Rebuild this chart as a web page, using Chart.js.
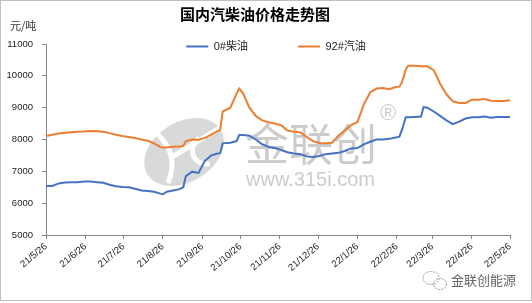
<!DOCTYPE html>
<html>
<head>
<meta charset="utf-8">
<script src="https://cdn.jsdelivr.net/npm/chart.js@4"></script>
<style>
  html, body { margin: 0; padding: 0; background: #fff; }
  #wrap { width: 532px; height: 303px; position: relative; }
</style>
</head>
<body>
<div id="wrap"><canvas id="Chart1"></canvas></div>
<script>
// month tick labels (yy/m/d)
const tickLabels = ['21/5/26', '21/6/26', '21/7/26', '21/8/26', '21/9/26', '21/10/26', '21/11/26',
  '21/12/26', '22/1/26', '22/2/26', '22/3/26', '22/4/26', '22/5/26'];

// days since 21/5/26
const days = [
  0, 5, 10, 15, 20, 25, 30, 35, 40, 45,
  50, 55, 60, 65, 70, 75, 80, 85, 90, 92,
  95, 100, 105, 108, 110, 115, 120, 125, 130, 135,
  137, 139, 145, 150, 152, 155, 160, 165, 170, 175,
  180, 185, 190, 195, 200, 205, 210, 215, 220, 225,
  230, 235, 240, 245, 250, 255, 260, 265, 270, 275,
  278, 280, 283, 285, 290, 295, 297, 300, 305, 310,
  315, 320, 325, 330, 335, 340, 345, 350, 355, 360, 365
];

// 0#柴油
const diesel = [
  6540, 6540, 6620, 6650, 6660, 6660, 6680, 6680, 6660, 6640,
  6580, 6530, 6510, 6500, 6450, 6400, 6380, 6360, 6300, 6280,
  6360, 6400, 6440, 6500, 6850, 6990, 6950, 7330, 7500, 7560,
  7570, 7880, 7900, 7950, 8140, 8140, 8120, 8000, 7850, 7770,
  7730, 7670, 7600, 7560, 7540, 7470, 7450, 7480, 7540, 7560,
  7580, 7640, 7720, 7730, 7850, 7930, 8000, 8000, 8020, 8060,
  8090, 8300, 8700, 8700, 8710, 8720, 9020, 9000, 8880, 8740,
  8600, 8480, 8560, 8660, 8700, 8700, 8720, 8680, 8710, 8710, 8710
];

// 92#汽油
const gasoline = [
  8110, 8150, 8190, 8210, 8230, 8240, 8250, 8270, 8260, 8240,
  8200, 8150, 8110, 8080, 8050, 8000, 7960, 7880, 7760, 7750,
  7750, 7770, 7780, 7800, 7950, 8000, 7990, 8050, 8150, 8260,
  8300, 8880, 9000, 9450, 9600, 9450, 9000, 8740, 8600, 8540,
  8500, 8450, 8280, 8240, 8230, 8080, 7950, 7890, 7880, 7900,
  8120, 8280, 8450, 8550, 9100, 9480, 9600, 9620, 9580, 9650,
  9660, 9800, 10200, 10320, 10320, 10300, 10300, 10300, 10180, 9750,
  9420, 9200, 9150, 9150, 9250, 9250, 9270, 9220, 9210, 9210, 9230
];

const dayOf = (lbl) => {
  const [y, m, d] = lbl.split('/').map(Number);
  return Math.round((Date.UTC(2000 + y, m - 1, d) - Date.UTC(2021, 4, 26)) / 86400000);
};
const tickDays = tickLabels.map(dayOf);

const cjk = '"Liberation Sans", "Noto Sans CJK SC", sans-serif';
const axisColor = '#868686';

const decor = {
  id: 'decor',
  beforeDraw(chart) {
    // excel puts the legend over the top of the plot
    const lg = chart.legend;
    lg.top = 41 - lg.options.labels.padding;
    lg.bottom = 60;
    lg.left = 20;
    lg.right = 532;
  },
  beforeDatasetsDraw(chart) {
    const ctx = chart.ctx;
    ctx.save();
    // logo blob
    ctx.translate(184, 152);
    ctx.rotate(-0.55);
    ctx.fillStyle = '#d9d9d9';
    ctx.beginPath();
    ctx.ellipse(0, 0, 43, 30, 0, 0, Math.PI * 2);
    ctx.fill();
    ctx.strokeStyle = '#fff';
    ctx.lineWidth = 5;
    ctx.beginPath();
    ctx.moveTo(-14, -32);
    ctx.quadraticCurveTo(-4, 0, -30, 18);
    ctx.stroke();
    ctx.beginPath();
    ctx.moveTo(-12, -2);
    ctx.lineTo(44, -2);
    ctx.stroke();
    ctx.beginPath();
    ctx.arc(20, 10, 14, Math.PI * 0.6, Math.PI * 1.5);
    ctx.stroke();
    ctx.restore();

    ctx.save();
    ctx.fillStyle = '#cccccc';
    ctx.textBaseline = 'middle';
    ctx.textAlign = 'left';
    ctx.font = '44px "Noto Sans CJK SC"';
    ctx.fillText('金联创', 245, 144);
    ctx.font = '20px "Liberation Sans"';
    ctx.fillText('www.315i.com', 246, 180);
    ctx.font = '22px "Liberation Sans"';
    ctx.fillText('®', 380, 114);
    ctx.restore();
  },
  afterDraw(chart) {
    const ctx = chart.ctx;
    ctx.save();
    ctx.fillStyle = '#333';
    ctx.textBaseline = 'middle';
    ctx.font = '11px "Noto Sans CJK SC"';
    ctx.fillText('元/吨', 10, 26);

    // wechat mark bottom right
    ctx.strokeStyle = '#9a9a9a';
    ctx.lineWidth = 1;
    ctx.setLineDash([2, 1]);
    ctx.beginPath();
    ctx.ellipse(431, 278, 8, 6.5, 0, 0, Math.PI * 2);
    ctx.stroke();
    ctx.beginPath();
    ctx.ellipse(440, 284, 6.5, 5.5, 0, 0, Math.PI * 2);
    ctx.stroke();
    ctx.setLineDash([]);
    ctx.fillStyle = '#666';
    ctx.font = '13px "Noto Sans CJK SC"';
    ctx.fillText('金联创能源', 451, 280);

    ctx.strokeStyle = '#bfbfbf';
    ctx.strokeRect(0.5, 0.5, 531, 300);
    ctx.restore();
  }
};

const ctx1 = document.getElementById('Chart1');
new Chart(ctx1, {
  type: 'line',
  data: {
    datasets: [
      {
        label: '0#柴油',
        data: days.map((d, i) => ({ x: d, y: diesel[i] })),
        borderColor: '#4472C4',
        backgroundColor: '#4472C4',
        borderWidth: 2,
        pointRadius: 0,
        tension: 0,
        fill: false
      },
      {
        label: '92#汽油',
        data: days.map((d, i) => ({ x: d, y: gasoline[i] })),
        borderColor: '#ED7D31',
        backgroundColor: '#ED7D31',
        borderWidth: 2,
        pointRadius: 0,
        tension: 0,
        fill: false
      }
    ]
  },
  options: {
    responsive: true,
    maintainAspectRatio: false,
    animation: false,
    layout: { padding: { left: 0, right: 22, top: 0, bottom: 0 } },
    plugins: {
      title: {
        display: true,
        text: '国内汽柴油价格走势图',
        color: '#000',
        font: { size: 15, weight: 'bold', family: '"Noto Sans CJK SC"' },
        padding: { top: 5, bottom: 0 }
      },
      legend: {
        display: true,
        position: 'top',
        maxHeight: 21,
        labels: {
          boxWidth: 22,
          boxHeight: 2,
          padding: 50,
          color: '#222',
          font: { size: 11, family: cjk },
          generateLabels: (chart) =>
            Chart.defaults.plugins.legend.labels.generateLabels(chart).map(l => ({ ...l, lineWidth: 0 }))
        }
      },
      tooltip: { enabled: false }
    },
    scales: {
      x: {
        type: 'linear',
        min: 0,
        max: 365,
        afterBuildTicks: (scale) => { scale.ticks = tickDays.map(v => ({ value: v })); },
        afterFit: (scale) => { scale.height = 68; },
        grid: { drawOnChartArea: false, drawTicks: true, tickLength: 4, color: axisColor },
        border: { color: axisColor },
        ticks: {
          autoSkip: false,
          minRotation: 40,
          maxRotation: 40,
          padding: 2,
          color: '#222',
          font: { size: 9.5, family: cjk },
          callback: (v) => tickLabels[tickDays.indexOf(v)]
        }
      },
      y: {
        min: 5000,
        max: 11000,
        afterFit: (scale) => { scale.width = 46; },
        grid: { drawOnChartArea: false, drawTicks: true, tickLength: 4, color: axisColor },
        border: { color: axisColor },
        ticks: {
          stepSize: 1000,
          padding: 9,
          color: '#222',
          font: { size: 9.5, family: cjk },
          callback: (v) => String(v)
        }
      }
    }
  },
  plugins: [decor]
});
</script>
</body>
</html>
